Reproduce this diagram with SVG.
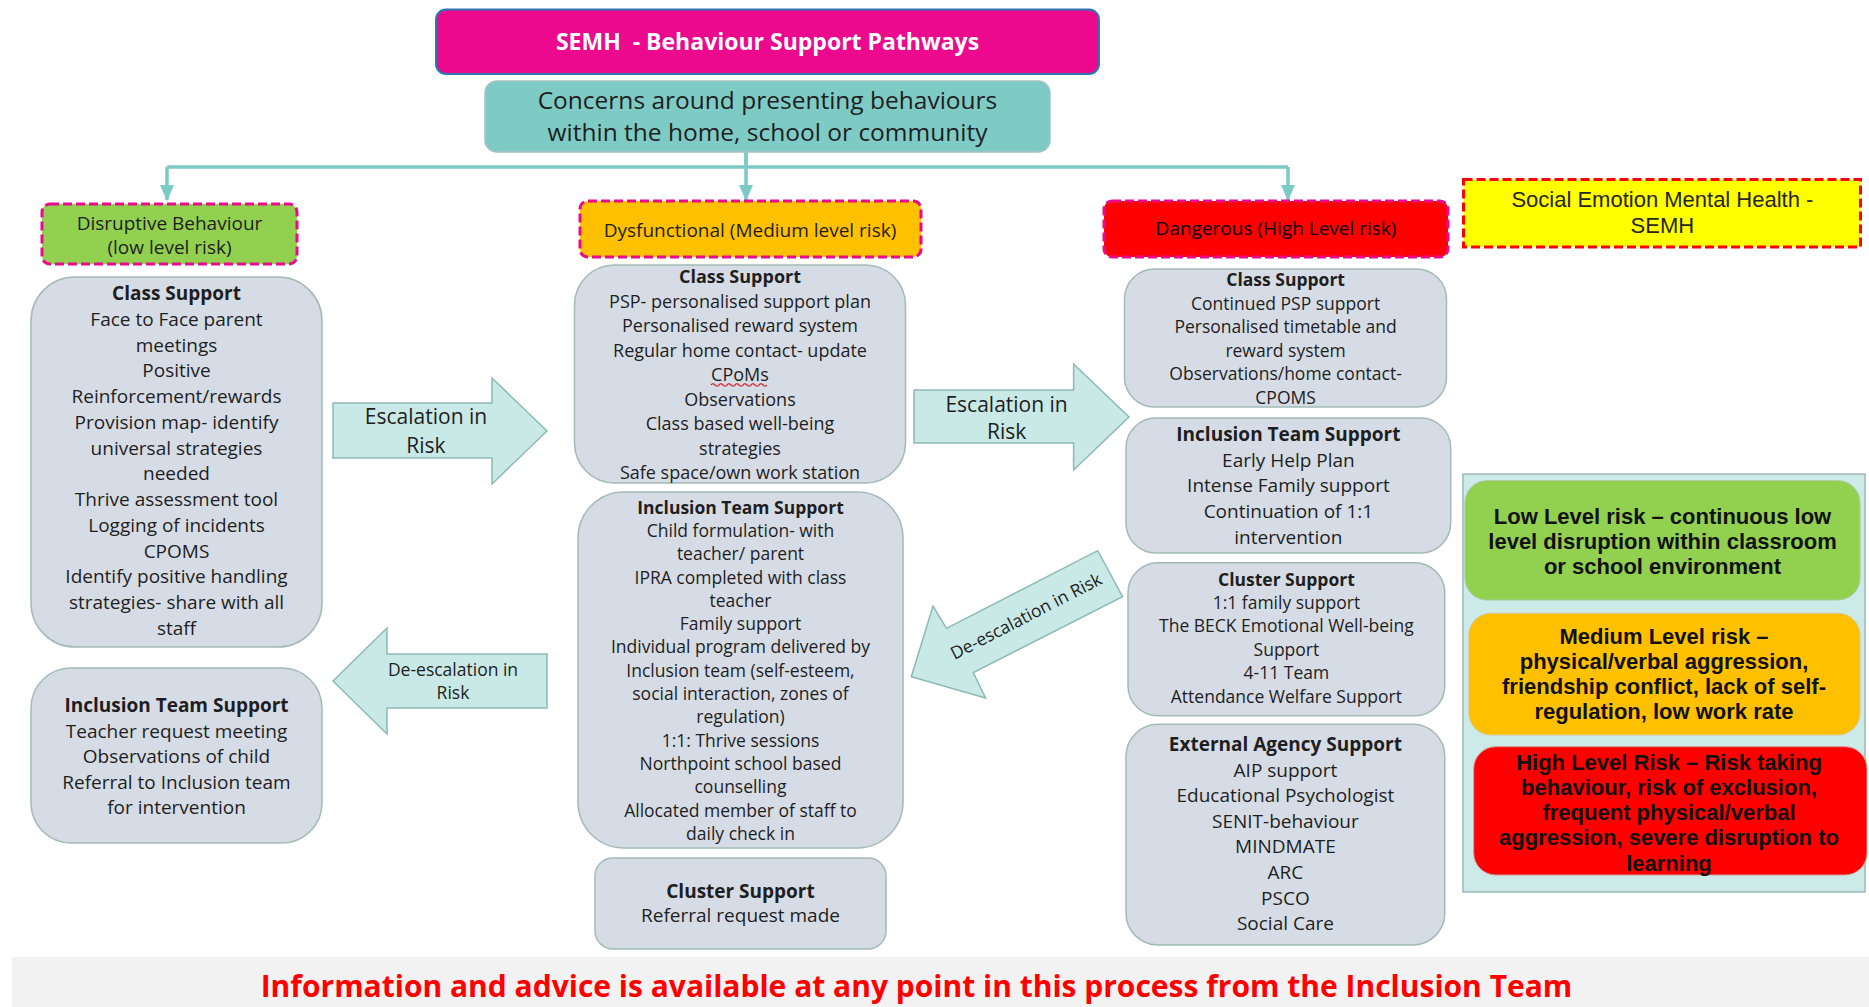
<svg xmlns="http://www.w3.org/2000/svg" width="1869" height="1007" viewBox="0 0 1869 1007">
<style>
.box{fill:#D6DCE5;stroke:#A3BAB8;stroke-width:1.5}
.arrow{fill:#C9E9E6;stroke:#8DB9B6;stroke-width:1.5}
.t{font-family:"Open Sans","Liberation Sans",sans-serif;fill:#1E1E1E;text-anchor:middle}
.b{font-weight:bold}
.cat{stroke:#EC098D;stroke-width:3;stroke-dasharray:9 4}
.leg{font-family:"Liberation Sans",Arial,sans-serif;font-weight:bold;fill:#111;text-anchor:middle;font-size:22px}
.conn{stroke:#7CCAC5;stroke-width:3.5;fill:none}
</style>
<defs>
<marker id="ad" markerUnits="userSpaceOnUse" markerWidth="14" markerHeight="16" refX="7" refY="15" viewBox="0 0 14 16" orient="0">
<path d="M0,0 L14,0 L7,16 Z" fill="#7CCAC5"/>
</marker>
</defs>
<rect x="0" y="0" width="1869" height="1007" fill="#FFFFFF"/>

<g id="connectors">
<line class="conn" x1="746" y1="152" x2="746" y2="167"/>
<line class="conn" x1="167" y1="167" x2="1288" y2="167"/>
<line class="conn" x1="167" y1="167" x2="167" y2="200" marker-end="url(#ad)"/>
<line class="conn" x1="746" y1="152" x2="746" y2="200" marker-end="url(#ad)"/>
<line class="conn" x1="1288" y1="167" x2="1288" y2="200" marker-end="url(#ad)"/>
</g>

<g id="title">
<rect x="436" y="9.5" width="663" height="64.5" rx="10" fill="#EC098D" stroke="#2E75B6" stroke-width="2"/>
<text class="t b" x="767.5" y="50" font-size="23" style="fill:#FFFFFF">SEMH&#160; - Behaviour Support Pathways</text>
</g>

<g id="concerns">
<rect x="485" y="81" width="565" height="71" rx="12" fill="#7ECBC6" stroke="#A6C2C0" stroke-width="1.5"/>
<text class="t" font-size="24.5"><tspan x="767.5" y="108.8">Concerns around presenting behaviours</tspan><tspan x="767.5" y="140.5">within the home, school or community</tspan></text>
</g>

<g id="cat-low">
<rect class="cat" x="42" y="204" width="255" height="60" rx="8" fill="#92D050"/>
<text class="t" font-size="19"><tspan x="169.5" y="229.5">Disruptive Behaviour</tspan><tspan x="169.5" y="253.5">(low level risk)</tspan></text>
</g>

<g id="cat-medium">
<rect class="cat" x="580" y="201" width="341" height="56" rx="8" fill="#FFC000"/>
<text class="t" font-size="19" x="750" y="237">Dysfunctional (Medium level risk)</text>
</g>

<g id="cat-high">
<rect class="cat" x="1104" y="201" width="344" height="56" rx="8" fill="#FF0000"/>
<text class="t" font-size="19" x="1276" y="234.5" style="fill:#000">Dangerous (High Level risk)</text>
</g>

<g id="cat-semh">
<rect x="1463.5" y="179.5" width="397" height="67.5" fill="#FFFF00" stroke="#FF0000" stroke-width="3" stroke-dasharray="9 4"/>
<text font-family="Liberation Sans, Arial, sans-serif" font-size="22" fill="#262626" text-anchor="middle"><tspan x="1662.4" y="206.7">Social Emotion Mental Health -</tspan><tspan x="1662.4" y="232.7">SEMH</tspan></text>
</g>

<g id="low-class-support">
<rect class="box" x="31" y="277" width="291" height="370" rx="44"/>
<text class="t" font-size="19"><tspan class="b" x="176.5" y="300">Class Support</tspan><tspan x="176.5" dy="25.75">Face to Face parent</tspan><tspan x="176.5" dy="25.75">meetings</tspan><tspan x="176.5" dy="25.75">Positive</tspan><tspan x="176.5" dy="25.75">Reinforcement/rewards</tspan><tspan x="176.5" dy="25.75">Provision map- identify</tspan><tspan x="176.5" dy="25.75">universal strategies</tspan><tspan x="176.5" dy="25.75">needed</tspan><tspan x="176.5" dy="25.75">Thrive assessment tool</tspan><tspan x="176.5" dy="25.75">Logging of incidents</tspan><tspan x="176.5" dy="25.75">CPOMS</tspan><tspan x="176.5" dy="25.75">Identify positive handling</tspan><tspan x="176.5" dy="25.75">strategies- share with all</tspan><tspan x="176.5" dy="25.75">staff</tspan></text>
</g>

<g id="low-inclusion-team">
<rect class="box" x="31" y="668" width="291" height="175" rx="40"/>
<text class="t" font-size="19"><tspan class="b" x="176.5" y="712">Inclusion Team Support</tspan><tspan x="176.5" dy="25.5">Teacher request meeting</tspan><tspan x="176.5" dy="25.5">Observations of child</tspan><tspan x="176.5" dy="25.5">Referral to Inclusion team</tspan><tspan x="176.5" dy="25.5">for intervention</tspan></text>
</g>

<g id="escalation-1">
<polygon class="arrow" points="333,403 492,403 492,378 547,431 492,484 492,458 333,458"/>
<text class="t" font-size="21"><tspan x="426" y="424">Escalation in</tspan><tspan x="426" y="452.5">Risk</tspan></text>
</g>

<g id="deescalation-1">
<polygon class="arrow" points="333,681 387,628 387,654 547,654 547,708 387,708 387,734"/>
<text class="t" font-size="17.5"><tspan x="453" y="676.3">De-escalation in</tspan><tspan x="453" y="699">Risk</tspan></text>
</g>

<g id="medium-class-support">
<rect class="box" x="574.5" y="265" width="331" height="218" rx="40"/>
<text class="t" font-size="18"><tspan class="b" x="740" y="283.2">Class Support</tspan><tspan x="740" dy="24.5">PSP- personalised support plan</tspan><tspan x="740" dy="24.5">Personalised reward system</tspan><tspan x="740" dy="24.5">Regular home contact- update</tspan><tspan x="740" dy="24.5">CPoMs</tspan><tspan x="740" dy="24.5">Observations</tspan><tspan x="740" dy="24.5">Class based well-being</tspan><tspan x="740" dy="24.5">strategies</tspan><tspan x="740" dy="24.5">Safe space/own work station</tspan></text>
<path d="M711,385 q2,-2.5 4,0 t4,0 t4,0 t4,0 t4,0 t4,0 t4,0 t4,0 t4,0 t4,0 t4,0 t4,0 t4,0 t4,0" fill="none" stroke="#E00000" stroke-width="1.2"/>
</g>

<g id="medium-inclusion-team">
<rect class="box" x="578" y="492" width="325" height="356" rx="46"/>
<text class="t" font-size="17.5"><tspan class="b" x="740.5" y="513.6">Inclusion Team Support</tspan><tspan x="740.5" dy="23.3">Child formulation- with</tspan><tspan x="740.5" dy="23.3">teacher/ parent</tspan><tspan x="740.5" dy="23.3">IPRA completed with class</tspan><tspan x="740.5" dy="23.3">teacher</tspan><tspan x="740.5" dy="23.3">Family support</tspan><tspan x="740.5" dy="23.3">Individual program delivered by</tspan><tspan x="740.5" dy="23.3">Inclusion team (self-esteem,</tspan><tspan x="740.5" dy="23.3">social interaction, zones of</tspan><tspan x="740.5" dy="23.3">regulation)</tspan><tspan x="740.5" dy="23.3">1:1: Thrive sessions</tspan><tspan x="740.5" dy="23.3">Northpoint school based</tspan><tspan x="740.5" dy="23.3">counselling</tspan><tspan x="740.5" dy="23.3">Allocated member of staff to</tspan><tspan x="740.5" dy="23.3">daily check in</tspan></text>
</g>

<g id="medium-cluster-support">
<rect class="box" x="595" y="858" width="291" height="91" rx="18"/>
<text class="t" font-size="19"><tspan class="b" x="740.5" y="897.7">Cluster Support</tspan><tspan x="740.5" y="922">Referral request made</tspan></text>
</g>

<g id="escalation-2">
<polygon class="arrow" points="914,390 1073.6,390 1073.6,364 1129,417 1073.6,470 1073.6,443 914,443"/>
<text class="t" font-size="21"><tspan x="1006.6" y="411.5">Escalation in</tspan><tspan x="1006.6" y="439">Risk</tspan></text>
</g>

<g id="deescalation-2">
<polygon class="arrow" points="911.3,676.7 933,606 946.5,628.3 1097.7,550.7 1122.6,596.7 973.3,672.7 985.6,698"/>
<text class="t" font-size="17.5" transform="rotate(-27.3 1026 616)" x="1026" y="622.3">De-escalation in Risk</text>
</g>

<g id="high-class-support">
<rect class="box" x="1124.5" y="269" width="322" height="138" rx="30"/>
<text class="t" font-size="17.5"><tspan class="b" x="1285.6" y="286.3">Class Support</tspan><tspan x="1285.6" dy="23.5">Continued PSP support</tspan><tspan x="1285.6" dy="23.5">Personalised timetable and</tspan><tspan x="1285.6" dy="23.5">reward system</tspan><tspan x="1285.6" dy="23.5">Observations/home contact-</tspan><tspan x="1285.6" dy="23.5">CPOMS</tspan></text>
</g>

<g id="high-inclusion-team">
<rect class="box" x="1126" y="418" width="324.7" height="135" rx="30"/>
<text class="t" font-size="19"><tspan class="b" x="1288.4" y="441">Inclusion Team Support</tspan><tspan x="1288.4" dy="25.7">Early Help Plan</tspan><tspan x="1288.4" dy="25.7">Intense Family support</tspan><tspan x="1288.4" dy="25.7">Continuation of 1:1</tspan><tspan x="1288.4" dy="25.7">intervention</tspan></text>
</g>

<g id="high-cluster-support">
<rect class="box" x="1128" y="562.7" width="316.8" height="153" rx="30"/>
<text class="t" font-size="17.5"><tspan class="b" x="1286.4" y="585.6">Cluster Support</tspan><tspan x="1286.4" dy="23.4">1:1 family support</tspan><tspan x="1286.4" dy="23.4">The BECK Emotional Well-being</tspan><tspan x="1286.4" dy="23.4">Support</tspan><tspan x="1286.4" dy="23.4">4-11 Team</tspan><tspan x="1286.4" dy="23.4">Attendance Welfare Support</tspan></text>
</g>

<g id="high-external-agency">
<rect class="box" x="1126" y="724.3" width="318.8" height="220.7" rx="32"/>
<text class="t" font-size="19"><tspan class="b" x="1285.4" y="751">External Agency Support</tspan><tspan x="1285.4" dy="25.6">AIP support</tspan><tspan x="1285.4" dy="25.6">Educational Psychologist</tspan><tspan x="1285.4" dy="25.6">SENIT-behaviour</tspan><tspan x="1285.4" dy="25.6">MINDMATE</tspan><tspan x="1285.4" dy="25.6">ARC</tspan><tspan x="1285.4" dy="25.6">PSCO</tspan><tspan x="1285.4" dy="25.6">Social Care</tspan></text>
</g>

<g id="legend">
<rect x="1463" y="474" width="402" height="418" fill="#CBEAE8" stroke="#9DB8B6" stroke-width="1.5"/>
<g id="legend-low">
<rect x="1465" y="480.7" width="395" height="119.3" rx="22" fill="#92D050" stroke="#A9C9A0" stroke-width="1"/>
<text class="leg"><tspan x="1662.5" y="523.5">Low Level risk – continuous low</tspan><tspan x="1662.5" y="548.5">level disruption within classroom</tspan><tspan x="1662.5" y="573.5">or school environment</tspan></text>
</g>
<g id="legend-medium">
<rect x="1468.8" y="613.3" width="391.2" height="121.7" rx="22" fill="#FFC000" stroke="#D8C69A" stroke-width="1"/>
<text class="leg"><tspan x="1664" y="644">Medium Level risk –</tspan><tspan x="1664" y="669">physical/verbal aggression,</tspan><tspan x="1664" y="694">friendship conflict, lack of self-</tspan><tspan x="1664" y="719">regulation, low work rate</tspan></text>
</g>
<g id="legend-high">
<rect x="1473.7" y="746.7" width="393.3" height="128.3" rx="22" fill="#FF0000" stroke="#D89A9A" stroke-width="1"/>
<text class="leg"><tspan x="1669" y="769.5">High Level Risk – Risk taking</tspan><tspan x="1669" y="794.5">behaviour, risk of exclusion,</tspan><tspan x="1669" y="819.5">frequent physical/verbal</tspan><tspan x="1669" y="845">aggression, severe disruption to</tspan><tspan x="1669" y="871">learning</tspan></text>
</g>
</g>

<g id="footer">
<rect x="12" y="957" width="1857" height="50" fill="#F2F2F2"/>
<text class="t b" x="916.5" y="997" font-size="30" style="fill:#FF0000">Information and advice is available at any point in this process from the Inclusion Team</text>
</g>
</svg>
